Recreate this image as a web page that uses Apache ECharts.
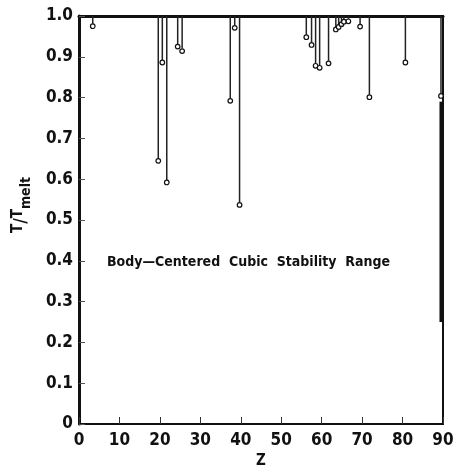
<!DOCTYPE html>
<html lang="en">
<head>
  <meta charset="UTF-8">
  <title>BCC stability range</title>
  <script type="text/javascript" src="https://fastly.jsdelivr.net/npm/echarts@6.0.0/dist/echarts.min.js"></script>
  <style>
    html, body, #container {
      width: 100%;
      height: 100%;
      margin: 0;
      padding: 0;
      overflow: hidden;
      background: #fff;
    }
  </style>
</head>
<body>
  <div id="container"></div>

  <script type="text/javascript">
    // atomic number and lower bound of bcc range (T / T_melt)
    var zValues = [3.4, 19.6, 20.6, 21.7, 24.4, 25.5, 37.4, 38.5, 39.7, 56.2, 57.5, 58.5, 59.5, 61.7,
                   63.5, 64.2, 64.9, 65.5, 66.6, 69.5, 71.8, 80.7, 89.5];
    var tValues = [0.975, 0.645, 0.886, 0.592, 0.925, 0.914, 0.792, 0.971, 0.537, 0.948, 0.929, 0.878, 0.873, 0.884,
                   0.967, 0.973, 0.980, 0.986, 0.987, 0.974, 0.801, 0.886, 0.804];
    // extra low-temperature band at the end
    var bandZ = [89.5];
    var bandFrom = [0.79];
    var bandTo = [0.25];

    var font = "'DejaVu Sans Condensed', 'Liberation Sans Narrow', sans-serif";

    var stems = zValues.map(function (z, i) { return [z, tValues[i]]; });
    var bands = bandZ.map(function (z, i) { return [z, bandFrom[i], bandTo[i]]; });

    var myChart = echarts.init(document.getElementById('container'), null, { renderer: 'canvas' });
    myChart.setOption({
      animation: false,
      grid: {
        left: 79, right: 10, top: 16, bottom: 43,
        outerBoundsMode: 'none', containLabel: false,
        show: true, borderColor: '#111', borderWidth: 2
      },
      xAxis: [{
        type: 'value', min: 0, max: 90, interval: 10,
        name: 'Z', nameLocation: 'middle', nameGap: 29,
        nameTextStyle: { fontFamily: font, fontWeight: 'bold', fontSize: 15, color: '#111' },
        axisLine: { lineStyle: { color: '#111', width: 2 } },
        axisTick: { inside: true, length: 7, lineStyle: { color: '#333' } },
        axisLabel: { fontFamily: font, fontWeight: 'bold', fontSize: 17, color: '#111', margin: 8 },
        splitLine: { show: false }
      }, {
        type: 'value', min: 0, max: 90, position: 'top',
        axisLine: { show: true, lineStyle: { color: '#111', width: 3 } },
        axisTick: { show: false }, axisLabel: { show: false }, splitLine: { show: false }
      }],
      yAxis: {
        type: 'value', min: 0, max: 1, interval: 0.1,
        name: '{a|T}{s|/}{a|T}{b|melt}', nameLocation: 'middle', nameGap: 46, nameRotate: 90,
        nameTextStyle: {
          color: '#111',
          padding: [0, 0, 0, 30],
          rich: {
            a: { fontFamily: font, fontWeight: 'bold', fontSize: 15, verticalAlign: 'top', lineHeight: 22 },
            s: { fontFamily: font, fontWeight: 'bold', fontSize: 17, lineHeight: 22 },
            b: { fontFamily: font, fontWeight: 'bold', fontSize: 14, verticalAlign: 'bottom', lineHeight: 22, padding: [10, 0, 0, 0] }
          }
        },
        axisLine: { show: true, lineStyle: { color: '#111', width: 3 } },
        axisTick: { inside: true, length: 6, lineStyle: { color: '#555' } },
        axisLabel: {
          fontFamily: font, fontWeight: 'bold', fontSize: 17, color: '#111', margin: 6,
          formatter: function (v) { return v === 0 ? '0' : v.toFixed(1); }
        },
        splitLine: { show: false }
      },
      graphic: [{
        type: 'text', left: 107, top: 255,
        style: {
          text: 'Body\u2014Centered  Cubic  Stability  Range',
          fontFamily: font, fontWeight: 'bold', fontSize: 14, fill: '#111'
        }
      }],
      series: [{
        type: 'custom',
        data: stems,
        renderItem: function (params, api) {
          var top = api.coord([api.value(0), 1]);
          var end = api.coord([api.value(0), api.value(1)]);
          return {
            type: 'group',
            children: [{
              type: 'line',
              shape: { x1: top[0], y1: top[1], x2: end[0], y2: end[1] - 2.5 },
              style: { stroke: '#222', lineWidth: 1.5 }
            }, {
              type: 'circle',
              shape: { cx: end[0], cy: end[1], r: 2.3 },
              style: { fill: '#fff', stroke: '#111', lineWidth: 1.2 }
            }]
          };
        }
      }, {
        type: 'custom',
        data: bands,
        renderItem: function (params, api) {
          var a = api.coord([api.value(0), api.value(1)]);
          var b = api.coord([api.value(0), api.value(2)]);
          return {
            type: 'line',
            shape: { x1: a[0], y1: a[1], x2: b[0], y2: b[1] },
            style: { stroke: '#111', lineWidth: 3 }
          };
        }
      }]
    });
  </script>
</body>
</html>
